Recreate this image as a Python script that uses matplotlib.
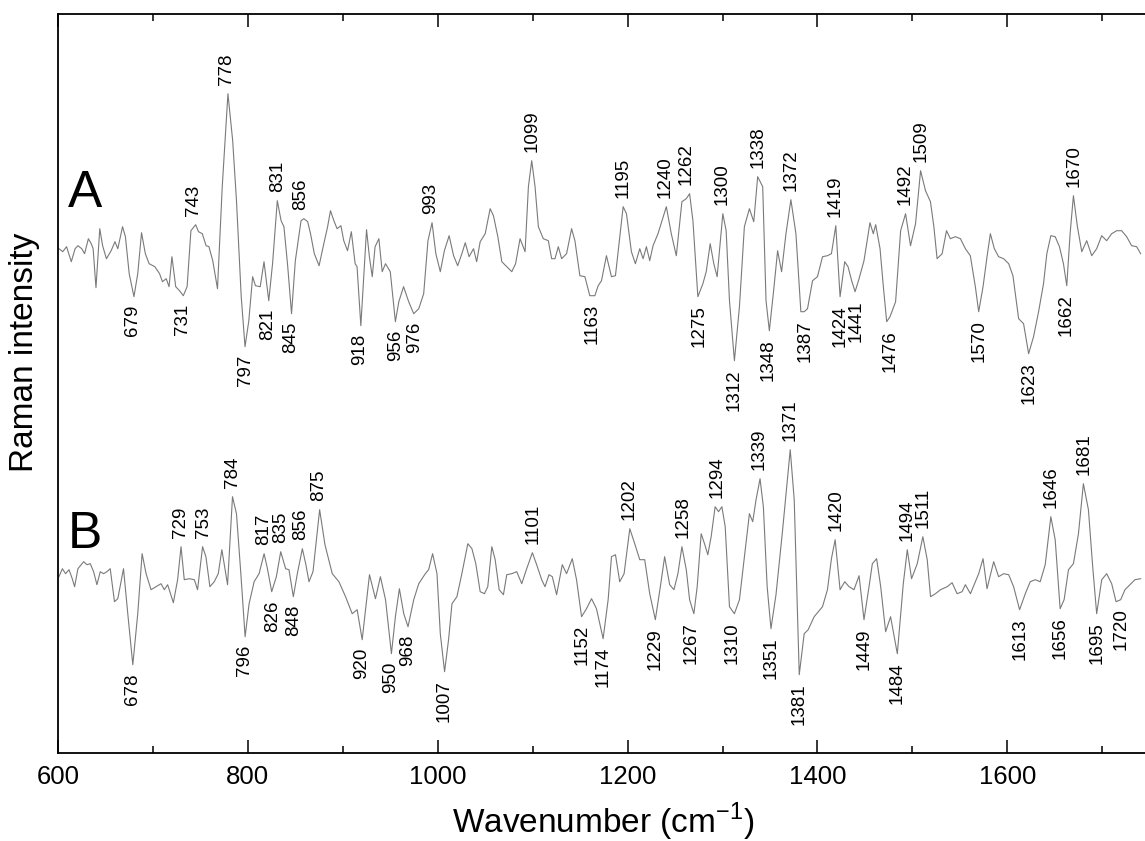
import matplotlib
matplotlib.use('Agg')
import matplotlib.pyplot as plt
from matplotlib.ticker import MultipleLocator

plt.rcParams['font.family'] = ['Liberation Sans', 'DejaVu Sans']
plt.rcParams['mathtext.fontset'] = 'custom'
plt.rcParams['mathtext.rm'] = 'Liberation Sans'

# spectrum A (wavenumber, relative intensity)
wn_a = [601, 605, 609, 614, 618, 621, 625, 628, 632, 635, 637, 640, 644, 647, 651, 656, 660, 663,
        668, 671, 675, 680, 684, 688, 692, 696, 702, 707, 710, 714, 717, 720, 724, 728, 732, 736,
        740, 745, 748, 752, 756, 759, 763, 768, 773, 779, 784, 788, 793, 797, 801, 805, 808, 813,
        817, 822, 826, 831, 835, 838, 842, 846, 850, 856, 859, 863, 866, 870, 875, 880, 884, 887,
        891, 894, 898, 901, 905, 909, 913, 915, 919, 925, 928, 931, 934,
        938, 941.5, 945, 950, 955.4, 959, 964, 969.4, 974.7, 980, 985.2, 989.7, 994, 998, 1002.7,
        1007, 1012, 1016.7, 1021, 1025.4, 1029, 1033, 1037.7, 1041, 1044.7, 1050, 1055.2, 1058.7,
        1063.3, 1067.5, 1072.7, 1078, 1082, 1086.7, 1092, 1095.5, 1099, 1102.5, 1106, 1111.2,
        1116.5, 1120, 1123.5, 1127, 1130.5, 1135.7, 1141, 1144.5, 1149.7, 1155, 1160.2, 1165.5,
        1169, 1172.5, 1177.7, 1183, 1187.2, 1195.3, 1198.8, 1204, 1208.2, 1212.8, 1216.3, 1219.8,
        1223.3, 1226.8, 1232, 1236.2, 1240.8, 1246, 1251.3, 1257.2, 1261.8, 1265.3, 1268.8, 1274,
        1279.3, 1282.8, 1287, 1290.8, 1294.3, 1300.3, 1303.8, 1307.3, 1312.5, 1317.8, 1323,
        1328.3, 1332.9,
        1337, 1342.3, 1345.8, 1349.3, 1353.8, 1358, 1362.2, 1366.8, 1372, 1377.3, 1382.5, 1386,
        1389.5, 1394.8, 1400, 1405.3, 1410.5, 1414.7, 1419.3, 1423.8, 1428.7, 1432.2, 1436,
        1439.6, 1443.8, 1449, 1455.3, 1458.8, 1461.3, 1465.9, 1469.4, 1472.9, 1476.4, 1482.3,
        1487.6, 1492.8, 1498, 1503.3, 1508.6, 1513.8, 1519, 1522.6, 1526, 1531.3, 1535.9, 1540,
        1545.3, 1550.6, 1555.8, 1561, 1566.3, 1569.8, 1574.4, 1578.6, 1582.1, 1586.3, 1590.8,
        1596.1, 1601.4, 1605.9, 1611.9, 1617.1, 1622.4, 1627.6, 1632.9, 1638.1, 1641.6, 1645.8,
        1650.4, 1654.9, 1659.1, 1662.6, 1666.1, 1669.6, 1673.8, 1678.4, 1683.6, 1688.9, 1694.1,
        1699.4, 1704.6, 1709.9, 1715.2, 1720.4, 1725.7, 1730.9, 1736.2, 1740.4]
int_a = [0, -3, 2, -13, 0, 3, 0, -5, 10, 5, 0, -39, 20, 3, -10, -2, 7, 0,
         22, 12, -25, -48, -25, 16, -5, -15, -18, -25, -33, -30, -38, -8, -38, -42, -47, -38,
         18, 24, 17, 15, 3, 2, -12, -40, 62, 155, 108, 48, -48, -98, -72, -28, -37, -38,
         -13, -52, -15, 48, 28, 22, -18, -65, -12, 28, 30, 27, 15, -5, -17, 5, 22, 38,
         27, 20, 23, 8, -2, 17, -15, -18, -77, 19, -8, -28, 2,
         10, -23, -15, -23, -73, -53, -38, -53, -65, -60, -45, 8, 26, -5, -23,
         -2, 13, -7, -17, -5, 6, -8, 0, -13, 7, 15, 40, 33,
         12, -13, -18, -23, -15, 10, -3, 62, 88, 62, 22, 10,
         8, -10, -10, 2, -10, -5, 20, 8, -27, -28, -47, -47,
         -37, -32, -7, -28, -27, 42, 35, -3, -15, 0, -10, 2,
         -12, 3, 15, 28, 42, 15, -7, 47, 50, 55, 28, -48,
         -35, -23, 5, -15, -28, 35, 18, -52, -112, -58, 22,
         40, 27,
         72, 62, -52, -82, -42, -2, -23, 15, 49, 15, -63, -63,
         -60, -32, -28, -8, -7, -5, 23, -48, -13, -18, -32,
         -43, -30, -12, 26, 15, 24, 0, -38, -73, -68, -53,
         18, 35, 3, 25, 78, 58, 47, 22, -10, -5, 18, 10,
         12, 10, 0, -7, -38, -63, -38, -8, 15, 0, -8,
         -10, -15, -27, -70, -75, -105, -88, -63, -35, -5, 13,
         12, 2, -15, -37, 15, 53, 22, -3, 8, -7, 0,
         13, 8, 15, 18, 18, 12, 3, 2, -5]

# spectrum B (wavenumber, relative intensity)
wn_b = [601, 604.6, 608, 611.6, 615, 617.5, 621, 624.5, 627, 630.5, 634, 637.5, 641, 644.5, 648,
        651.5, 655, 659.5, 663, 669, 673.5, 678.8, 684, 688.6, 692.8, 698, 703.3, 708.5, 712,
        715.5, 721.5, 726, 729.6, 733, 738.3, 743.6, 747, 752.3, 755.8, 760, 764.6, 768.8, 772.6,
        778.6, 783.8, 788, 792.6, 797.1, 801.3, 806.6, 811.8, 817.1, 820.6, 825.1, 830, 834.6,
        839.8, 843.3, 847.9, 852.1, 857.4, 860.9, 864.4, 868.6, 875.6, 881.2, 888.9, 895.9,
        902.9, 909.9, 915.1, 920.4, 928.1, 934.4,
        939.6, 945, 951.2, 955.4, 959.6, 964.2, 968.7, 974.7, 980, 986.9, 990.4, 994.6, 999.2,
        1002.7, 1007.2, 1011.4, 1015, 1020.2, 1025.4, 1031.7, 1036, 1040.1, 1044.7, 1049.2,
        1052.7, 1057, 1060.5, 1064.7, 1069.2, 1072.7, 1078, 1083.2, 1088.5, 1093.7, 1099.7,
        1104.2, 1109.5, 1113, 1117.2, 1120.7, 1125.2, 1131.2, 1135.7, 1141.7, 1146.2, 1151.5,
        1156.7, 1162, 1167.2, 1174.2, 1179.5, 1183, 1187.2, 1191.7, 1196.3, 1202.3, 1207.5,
        1212.8, 1218, 1223.3, 1229.2, 1234.8, 1239, 1244.3, 1248.8, 1253, 1257.2, 1261.8,
        1265.3, 1269.8, 1273.3, 1277.5, 1281, 1284.5, 1288, 1292.2, 1295.8, 1299.3, 1302.8,
        1307.3, 1312.5, 1317.8, 1323, 1328.3, 1331.8, 1335.3, 1339.5, 1343, 1347, 1351,
        1356.3, 1363.3, 1371.3, 1375.5, 1380.8, 1386, 1390.2, 1396.5, 1405.3, 1410.5, 1414.7,
        1418.6, 1423.8, 1428.7, 1433.3, 1438.5, 1443.8, 1449, 1454.3, 1457.8, 1462.3, 1466.6,
        1471.8, 1477, 1484.1, 1490.4, 1494.6, 1499.1, 1505.1, 1511, 1515.6, 1519.1, 1524.3,
        1529.6, 1536.6, 1541.8, 1547.1, 1552.3, 1555.8, 1561.1, 1566.3, 1569.8, 1574.4, 1578.6,
        1585.6, 1590.8, 1596.1, 1601.4, 1606.6, 1612.9, 1618.9, 1624.1, 1629.4, 1634.6, 1639.9,
        1645.8, 1650.4, 1655.6, 1659.8, 1664.4, 1669.6, 1674.9, 1680.1, 1685.4, 1689.9, 1694.1,
        1699.4, 1704.6, 1709.9, 1714.5, 1719.4, 1723.9, 1729.2, 1734.4, 1740.4]
int_b = [0, 8, 3, 7, -2, -10, 8, 12, 15, 12, 13, 5, -8, 5, 3,
         5, 8, -25, -22, 8, -37, -88, -37, 23, 3, -13, -10, -7, -13,
         -8, -26, -3, 30, -3, -2, -3, -13, 30, 20, -10, -5, 3, 27,
         -8, 80, 63, 3, -60, -27, -5, 3, 23, 8, -15, 0, 25,
         8, 7, -20, 3, 28, 13, -5, 5, 67, 32, 3, -5,
         -20, -37, -33, -63, 2, -22,
         0, -23, -77, -40, -12, -37, -50, -23, -7, 3, 7, 23, 3,
         -57, -95, -63, -27, -20, 3, 33, 28, 13, -15, -17,
         -10, 30, 17, -13, -18, 2, 3, 5, -7, 8, 24,
         12, -3, -10, 2, 0, -18, 12, 3, 18, -3, -40,
         -32, -22, -32, -62, -23, 20, 22, -5, 3, 48, 33,
         17, 17, -17, -43, -8, 20, -8, -13, 3, 30, 7,
         -23, -37, -10, 43, 33, 22, 40, 70, 65, 70, 50,
         -30, -37, -23, 20, 63, 55, 77, 98, 70, -10, -52,
         -18, 47, 127, 77, -98, -57, -53, -40, -30, -13, 18,
         37, -13, -5, -10, -13, 1, -43, -10, 13, 18, -10,
         -55, -40, -77, -7, 27, -2, 13, 40, 17, -20, -17,
         -13, -10, -6, -17, -15, -8, -17, -5, 3, 18, -12,
         15, 0, 3, 2, -10, -33, -17, -5, -3, -5, 12,
         60, 37, -32, -23, 7, 13, 43, 93, 67, 10, -37,
         -3, 3, -7, -25, -23, -13, -8, -3, -2]

# labelled band positions
peaks_a_up = [743, 778, 831, 856, 993, 1099, 1195, 1240, 1262, 1300, 1338, 1372, 1419, 1492, 1509, 1670]
peaks_a_down = [679, 731, 797, 821, 845, 918, 956, 976, 1163, 1275, 1312, 1348, 1387, 1424, 1441,
                1476, 1570, 1623, 1662]
peaks_b_up = [729, 753, 784, 817, 835, 856, 875, 1101, 1202, 1258, 1294, 1339, 1371, 1420, 1494,
              1511, 1646, 1681]
peaks_b_down = [678, 796, 826, 848, 920, 950, 968, 1007, 1152, 1174, 1229, 1267, 1310, 1351, 1381,
                1449, 1484, 1613, 1656, 1695, 1720]

offset_a = 504
offset_b = 176


def label_peaks(ax, wn, inten, offset, peaks, up):
    # put each label just beyond the local extremum of the trace
    for p in peaks:
        near = [v for w, v in zip(wn, inten) if abs(w - p) <= 5]
        v = max(near) if up else min(near)
        ax.annotate(str(p), xy=(p, v + offset), xytext=(0, 6 if up else -6),
                    textcoords='offset points', rotation=90, ha='center',
                    va='bottom' if up else 'top', fontsize=13.5)


fig = plt.figure(figsize=(11.45, 8.41), dpi=100)
ax = fig.add_axes([58 / 1145, 1 - 752.7 / 841, 1087 / 1145, 738.7 / 841])

ax.plot(wn_a, [v + offset_a for v in int_a], color='#7a7a7a', lw=0.8)
ax.plot(wn_b, [v + offset_b for v in int_b], color='#7a7a7a', lw=0.8)

label_peaks(ax, wn_a, int_a, offset_a, peaks_a_up, True)
label_peaks(ax, wn_a, int_a, offset_a, peaks_a_down, False)
label_peaks(ax, wn_b, int_b, offset_b, peaks_b_up, True)
label_peaks(ax, wn_b, int_b, offset_b, peaks_b_down, False)

ax.text(0.0092, 0.7387, 'A', transform=ax.transAxes, fontsize=37, va='baseline', ha='left')
ax.text(0.0092, 0.277, 'B', transform=ax.transAxes, fontsize=37, va='baseline', ha='left')

ax.set_xlim(600, 1745)
ax.set_ylim(0, 738.7)
ax.xaxis.set_major_locator(MultipleLocator(200))
ax.xaxis.set_minor_locator(MultipleLocator(100))
ax.tick_params(which='both', direction='in', top=True, bottom=True, left=False,
               labelleft=False, width=1.1, labelsize=18.5, pad=9)
ax.tick_params(which='major', length=9.5)
ax.tick_params(which='minor', length=5)
ax.spines['right'].set_visible(False)
for s in ['top', 'bottom', 'left']:
    ax.spines[s].set_linewidth(1.3)

fig.text(603 / 1145, 1 - 833 / 841, r'Wavenumber (cm$^{-1}$)', ha='center', va='baseline', fontsize=24)
fig.text(25 / 1145, 1 - 352 / 841, 'Raman intensity', rotation=90, ha='center', va='center', fontsize=24)

fig.savefig('out.png', dpi=100)
